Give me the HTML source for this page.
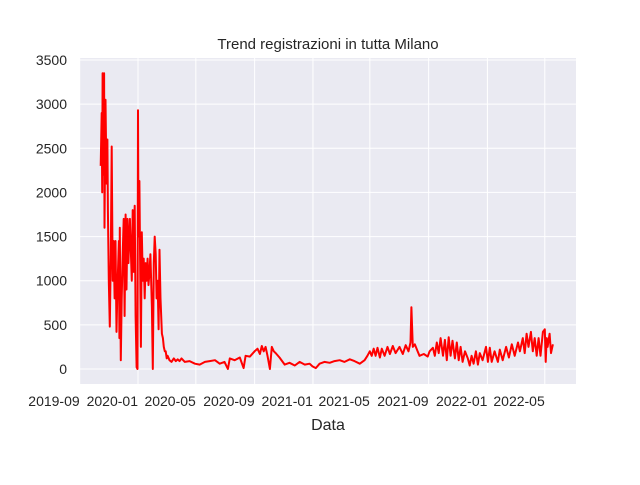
<!DOCTYPE html>
<html><head><meta charset="utf-8"><style>
html,body{margin:0;padding:0;background:#fff;}
svg text{font-family:"Liberation Sans","DejaVu Sans",sans-serif;fill:#262626;}
</style></head><body>
<svg id="chart" width="640" height="480" xmlns="http://www.w3.org/2000/svg">
<rect x="80" y="58" width="496" height="326" fill="#eaeaf2"/>
<g id="grid"></g><g id="ticks"></g><g id="series"></g>
<text x="328" y="49" font-size="15" text-anchor="middle">Trend registrazioni in tutta Milano</text>
<text x="328" y="430" font-size="16" text-anchor="middle">Data</text>
</svg>
<script>
const xTickLabels=["2019-09","2020-01","2020-05","2020-09","2021-01","2021-05","2021-09","2022-01","2022-05"];
const xTickDays=[0,122,243,366,488,607,730,853,973];
const yTicks=[0,500,1000,1500,2000,2500,3000,3500];
const days=[44,46,47,48,50,51,52,54,56,58,59,61,63,65,67,69,71,73,75,77,79,82,83,84,86,88,90,92,94,96,98,100,102,105,107,109,111,113,115,117,119,121,122,123,125,128,130,132,134,136,138,140,142,144,146,148,151,153,155,157,159,161,163,165,167,169,172,174,176,178,180,182,184,188,192,197,201,205,209,213,220,230,241,251,262,272,283,293,303,310,314,324,335,343,347,356,366,372,377,381,385,389,393,398,402,406,410,418,429,439,450,460,471,481,487,494,502,512,523,533,544,554,565,575,586,596,602,607,611,615,619,623,628,632,638,644,649,655,661,669,676,682,688,692,694,697,701,707,711,720,728,732,739,743,747,751,755,760,764,768,772,776,780,785,789,793,797,801,806,812,816,820,824,829,833,837,843,850,854,858,862,868,875,879,885,892,898,904,910,917,921,927,931,935,939,944,948,952,956,960,964,969,973,975,977,979,983,986,990];
const values=[2300,2900,2000,3350,2200,3350,1600,3050,2100,2600,1800,1000,480,1300,2520,1000,1450,800,1450,420,900,1450,350,1600,100,800,1300,1700,600,1750,900,1700,1200,1700,1350,1000,1800,1100,1850,600,20,0,2930,1500,2130,250,1550,1000,1250,800,1200,1000,1250,950,1100,1300,700,0,1200,1500,1300,800,1000,450,1350,800,400,350,250,200,200,120,150,100,80,120,90,110,90,120,80,90,60,50,80,90,100,60,80,0,120,100,130,10,150,140,200,230,170,260,200,250,150,0,250,200,180,130,50,70,40,80,50,60,30,10,60,80,70,90,100,80,110,90,60,100,150,200,150,230,150,240,130,230,150,250,170,260,180,250,170,270,200,300,700,250,280,200,150,170,140,200,240,150,300,180,350,150,330,100,360,150,320,120,300,100,250,80,200,120,40,150,60,200,50,180,100,250,80,240,80,200,80,220,100,250,130,280,150,300,200,350,180,400,250,420,200,350,150,350,150,420,450,80,350,250,400,180,280];
const NS="http://www.w3.org/2000/svg";
const L=80,R=576,T=58,B=384;
const xs=d=>138+(d-122)*0.478;
const ys=v=>369-v*(309/3500);
const grid=document.getElementById('grid'),ticks=document.getElementById('ticks'),series=document.getElementById('series');
yTicks.forEach(v=>{
 const l=document.createElementNS(NS,'line');
 l.setAttribute('x1',L);l.setAttribute('x2',R);l.setAttribute('y1',ys(v));l.setAttribute('y2',ys(v));
 l.setAttribute('stroke','#fff');l.setAttribute('stroke-width','1');
 
 
 grid.appendChild(l);
 const t=document.createElementNS(NS,'text');
 t.setAttribute('x',L-13);t.setAttribute('y',ys(v)+5);t.setAttribute('text-anchor','end');t.setAttribute('font-size','14');
 t.textContent=v;
 
 
 ticks.appendChild(t);
});
xTickDays.forEach((d,i)=>{
 const l=document.createElementNS(NS,'line');
 l.setAttribute('x1',xs(d));l.setAttribute('x2',xs(d));l.setAttribute('y1',T);l.setAttribute('y2',B);
 l.setAttribute('stroke','#fff');l.setAttribute('stroke-width','1');
 
 
 grid.appendChild(l);
 const t=document.createElementNS(NS,'text');
 t.setAttribute('x',xs(d));t.setAttribute('y',B+22);t.setAttribute('text-anchor','end');t.setAttribute('font-size','14');
 t.textContent=xTickLabels[i];
 
 
 ticks.appendChild(t);
});
const p=document.createElementNS(NS,'polyline');
p.setAttribute('points',days.map((d,i)=>xs(d).toFixed(1)+','+ys(values[i]).toFixed(1)).join(' '));
p.setAttribute('fill','none');p.setAttribute('stroke','#ff0000');p.setAttribute('stroke-width','2');p.setAttribute('stroke-linejoin','round');


series.appendChild(p);
</script>
</body></html>
